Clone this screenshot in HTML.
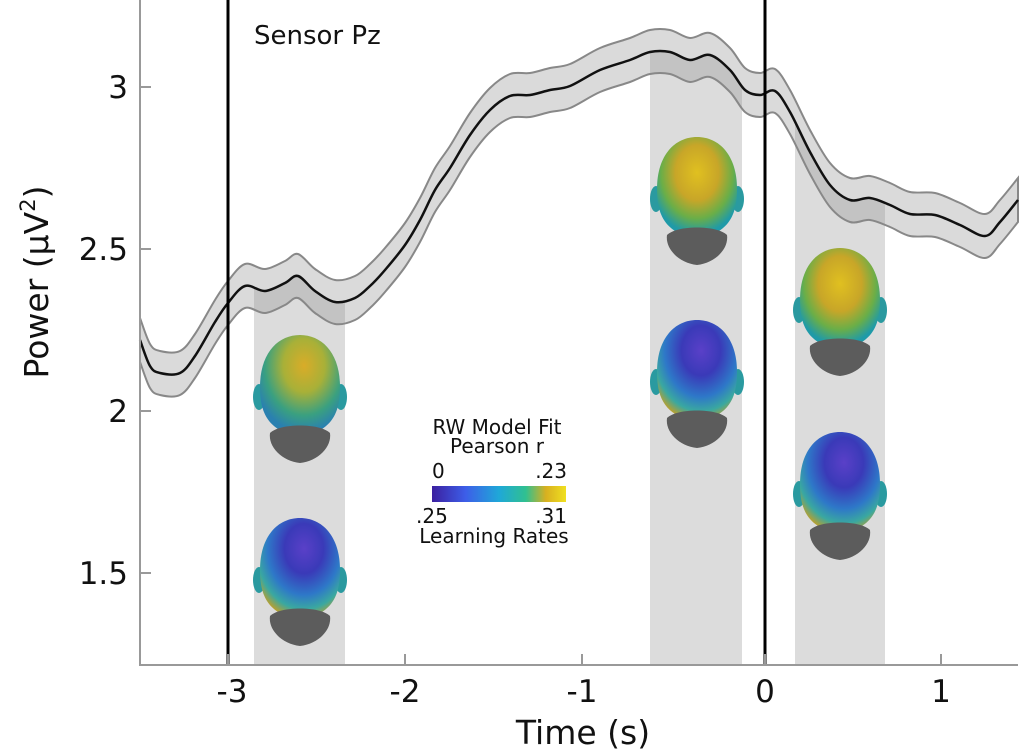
<!DOCTYPE html>
<html><head><style>
body{margin:0;background:#fff;}
svg{display:block;}
text{font-family:"DejaVu Sans","Liberation Sans",sans-serif;fill:#111;}
</style></head><body>
<svg id="s" width="1024" height="755" viewBox="0 0 1024 755" xmlns="http://www.w3.org/2000/svg">
<defs>
<radialGradient id="warm" cx="0.5" cy="0.35" r="0.6">
<stop offset="0" stop-color="#e0c020"/><stop offset="0.45" stop-color="#c8a628"/><stop offset="0.75" stop-color="#6aae48"/><stop offset="1" stop-color="#1f9aa8"/></radialGradient>
<radialGradient id="mix" cx="0.55" cy="0.3" r="0.65">
<stop offset="0" stop-color="#d9ac28"/><stop offset="0.4" stop-color="#a8b038"/><stop offset="0.75" stop-color="#3aa080"/><stop offset="1" stop-color="#2a80b0"/></radialGradient>
<radialGradient id="cold" cx="0.55" cy="0.3" r="0.7">
<stop offset="0" stop-color="#5a40c8"/><stop offset="0.35" stop-color="#3a3ab8"/><stop offset="0.65" stop-color="#2e78c8"/><stop offset="0.85" stop-color="#3aa8a0"/><stop offset="1" stop-color="#b8a030"/></radialGradient>
<linearGradient id="cb" x1="0" x2="1">
<stop offset="0" stop-color="#3b1fa0"/><stop offset="0.25" stop-color="#3d5ee8"/><stop offset="0.5" stop-color="#1fa8d8"/><stop offset="0.7" stop-color="#30c090"/><stop offset="0.85" stop-color="#d8b020"/><stop offset="1" stop-color="#f0e020"/></linearGradient>
<clipPath id="below"><path id="clipp"/></clipPath>
</defs>
<g id="rects" clip-path="url(#below)">
<rect x="254" y="0" width="91" height="665" fill="#dcdcdc"/>
<rect x="650" y="0" width="92" height="665" fill="#dcdcdc"/>
<rect x="795" y="0" width="90" height="665" fill="#dcdcdc"/>
</g>
<path id="band" fill="rgba(150,150,150,0.35)" stroke="#888" stroke-width="2"/>
<path id="mean" fill="none" stroke="#111" stroke-width="2.5"/>
<line x1="228" y1="0" x2="228" y2="665" stroke="#000" stroke-width="3"/>
<line x1="765" y1="0" x2="765" y2="665" stroke="#000" stroke-width="3"/>
<g id="heads"></g>
<line x1="140" y1="0" x2="140" y2="666" stroke="#999" stroke-width="2"/>
<line x1="139" y1="665" x2="1018" y2="665" stroke="#999" stroke-width="2"/>
<g stroke="#999" stroke-width="2">
<line x1="140" y1="87" x2="151" y2="87"/><line x1="140" y1="249" x2="151" y2="249"/><line x1="140" y1="411" x2="151" y2="411"/><line x1="140" y1="573" x2="151" y2="573"/>
<line x1="228" y1="665" x2="228" y2="654"/><line x1="405" y1="665" x2="405" y2="654"/><line x1="582" y1="665" x2="582" y2="654"/><line x1="765" y1="665" x2="765" y2="654"/><line x1="941" y1="665" x2="941" y2="654"/>
</g>
<g font-size="31" text-anchor="end">
<text x="128" y="98">3</text><text x="128" y="260">2.5</text><text x="128" y="422">2</text><text x="128" y="584">1.5</text>
</g>
<g font-size="31" text-anchor="middle">
<text x="232" y="702">-3</text><text x="405" y="702">-2</text><text x="582" y="702">-1</text><text x="765" y="702">0</text><text x="941" y="702">1</text>
<text x="583" y="744" font-size="33">Time (s)</text>
</g>
<text transform="translate(48,282) rotate(-90)" font-size="33" text-anchor="middle">Power (μV<tspan dy="-13" font-size="21">2</tspan><tspan dy="13">)</tspan></text>
<text x="254" y="44" font-size="26">Sensor Pz</text>
<g font-size="20" text-anchor="middle">
<text x="497" y="434">RW Model Fit</text>
<text x="497" y="453">Pearson r</text>
<text x="432" y="478" text-anchor="start">0</text>
<text x="567" y="478" text-anchor="end">.23</text>
<rect x="432" y="486" width="134" height="16" fill="url(#cb)"/>
<text x="416" y="523" text-anchor="start">.25</text>
<text x="567" y="523" text-anchor="end">.31</text>
<text x="494" y="543">Learning Rates</text>
</g>
</svg>
<script>
var P=[[140,340],[150,366],[160,373],[180,373],[195,356],[215,322],[228,303],[245,286],[265,291],[285,283],[298,276],[315,291],[335,302],[355,298],[370,286],[385,270],[405,245],[420,220],[435,190],[450,168],[470,135],[490,110],[510,96],[530,95],[550,90],[570,86],[600,70],[630,60],[650,52],[670,52],[690,60],[710,55],[730,70],[745,90],[760,95],[775,91],[790,112],[810,152],[830,185],[850,200],[870,198],[890,205],[910,214],[935,215],[960,225],[985,236],[1000,222],[1018,200]];
function pth(a){var s='M'+a[0][0]+','+a[0][1];for(var i=0;i<a.length-1;i++){var p0=a[i-1]||a[i],p1=a[i],p2=a[i+1],p3=a[i+2]||p2;
s+=' C'+(p1[0]+(p2[0]-p0[0])/6)+','+(p1[1]+(p2[1]-p0[1])/6)+' '+(p2[0]-(p3[0]-p1[0])/6)+','+(p2[1]-(p3[1]-p1[1])/6)+' '+p2[0]+','+p2[1];}return s;}
var up=P.map(function(p){return [p[0],p[1]-22]}),lo=P.map(function(p){return [p[0],p[1]+22]}).reverse();
document.getElementById('mean').setAttribute('d',pth(P));
document.getElementById('band').setAttribute('d',pth(up)+' L'+pth(lo).slice(1)+'Z');
document.getElementById('clipp').setAttribute('d',pth(P)+' L1018,700 L140,700Z');
var H=[[300,335,'mix'],[300,518,'cold'],[697,137,'warm'],[697,320,'cold'],[840,248,'warm'],[840,432,'cold']];
var g='';
H.forEach(function(h){
g+='<g transform="translate('+h[0]+','+h[1]+')">'+
'<ellipse cx="-41" cy="62" rx="6" ry="13" fill="#2a9aa0"/><ellipse cx="41" cy="62" rx="6" ry="13" fill="#2a9aa0"/>'+
'<path d="M-40,52 C-40,18 -22,0 0,0 C22,0 40,18 40,52 C40,78 32,96 0,102 C-32,96 -40,78 -40,52Z" fill="url(#'+h[2]+')"/>'+
'<path d="M-30,98 C-20,88 20,88 30,98 C32,112 18,126 0,128 C-18,126 -32,112 -30,98Z" fill="#5c5c5c"/></g>';});
document.getElementById('heads').innerHTML=g;
</script>
</body></html>
